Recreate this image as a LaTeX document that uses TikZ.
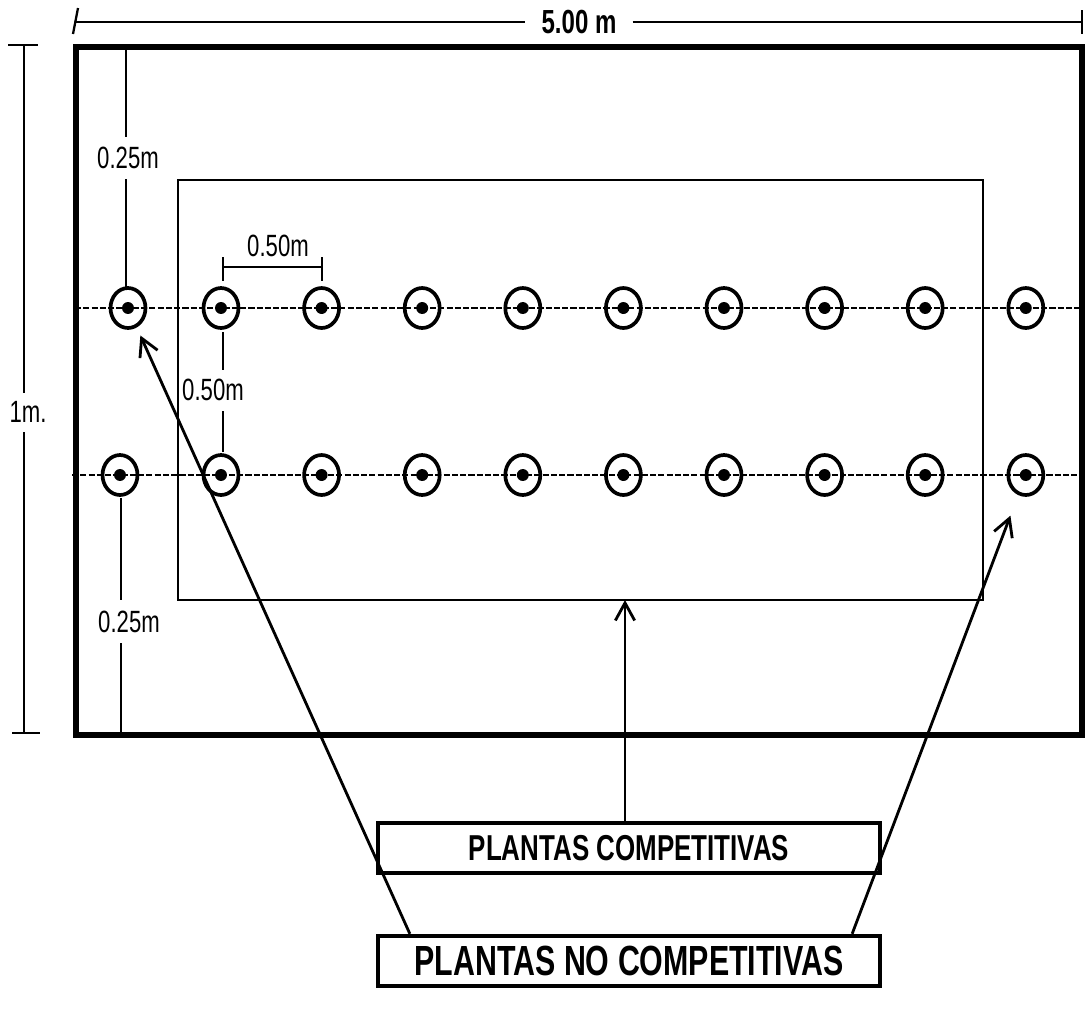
\documentclass[tikz,border=0pt]{standalone}
\usepackage{fontspec}
\setmainfont{Liberation Sans}
\newfontfamily\narrowfont[FakeStretch=0.72]{Liberation Sans}
\usepackage{tikz}
\usetikzlibrary{arrows.meta,calc,positioning,shapes.geometric}
\colorlet{ink}{black}

\tikzset{
  dimline/.style={ink,line width=1.3pt},
  rowline/.style={ink,line width=1.4pt,dash pattern=on 3.5pt off 1.2pt},
  plant/.style={draw=ink,ellipse,line width=2.1pt,inner sep=0pt,
    minimum width=0.7cm,minimum height=0.8cm,
    path picture={\fill[ink] (path picture bounding box.center) circle (3.4pt);}},
  lbl/.style={font=\narrowfont\fontsize{17.5}{17.5}\selectfont,inner sep=1pt},
  tagbox/.style={draw=ink,line width=2.5pt,inner sep=0pt,
    minimum width=10.04cm,minimum height=1cm},
  pointer/.style={->,ink,line width=1.6pt}
}

\begin{document}
\begin{tikzpicture}[x=0.02cm,y=-0.02cm,>={Straight Barb[length=10pt,width=11pt]}]
\useasboundingbox (0,0) rectangle (1088,1012);
% overall width
\node[lbl,font=\narrowfont\bfseries\fontsize{19}{19}\selectfont,inner xsep=9pt] (wlab) at (579,22) {5.00 m};
\draw[dimline] (73,34) -- (78,8); \draw[dimline] (1082,10) -- (1082,34);
\draw[dimline] (75,22) -- (wlab.west) (wlab.east) -- (1082,22);
% overall height
\node[lbl] (hlab) at (28,412) {1m.};
\draw[dimline] (8,45) -- (38,45) (12,733) -- (40,733);
\draw[dimline] (24,45) -- (24,393) (24,432) -- (24,733);
% plot borders
\draw[ink,line width=2.9pt] (76,47) rectangle (1082,735);
\draw[ink,line width=1.3pt] (178,180) rectangle (983,600) coordinate (areaBR);
% the two rows
\draw[rowline] (75,308) -- (1082,308);
\draw[rowline] (72,475) -- (1080,475);
\node[plant] (t1) at (128,308) {};
\node[plant] (b1) at (120,475) {};
\foreach \i in {2,...,10}{
  \pgfmathsetmacro{\px}{221+100.6*(\i-2)}
  \node[plant] (t\i) at (\px,308) {};
  \node[plant] (b\i) at (\px,475) {};
}
% border distances
\node[lbl] (dtop) at (128,158) {0.25m};
\draw[dimline] (126,47) -- (126,137) (126,179) -- (126,287);
\node[lbl] (dbot) at (129,622) {0.25m};
\draw[dimline] (121,498) -- (121,600) (121,643) -- (121,735);
% spacing between plants and rows
\node[lbl] (dx) at (278,246) {0.50m};
\draw[dimline] (223,257) -- (223,281) (223,267) -- (322,267) (322,257) -- (322,281);
\node[lbl] (dy) at (213,390) {0.50m};
\draw[dimline] (223,332) -- (223,370) (223,411) -- (223,452);
% legend boxes
\node[tagbox,font=\narrowfont\bfseries\fontsize{20.5}{20.5}\selectfont] (comp) at (629,848) {PLANTAS COMPETITIVAS};
\node[tagbox,font=\narrowfont\bfseries\fontsize{24}{24}\selectfont] (nocomp) at (629,961) {PLANTAS NO COMPETITIVAS};
\draw[pointer] (comp.north -| 625,0) -- (625,600);
\draw[pointer,shorten >=5pt] ($(nocomp.north west)+(34,0)$) -- (t1);
\draw[pointer,shorten >=12.5pt] ($(nocomp.north east)+(-30,0)$) -- (b10);
\end{tikzpicture}
\end{document}
